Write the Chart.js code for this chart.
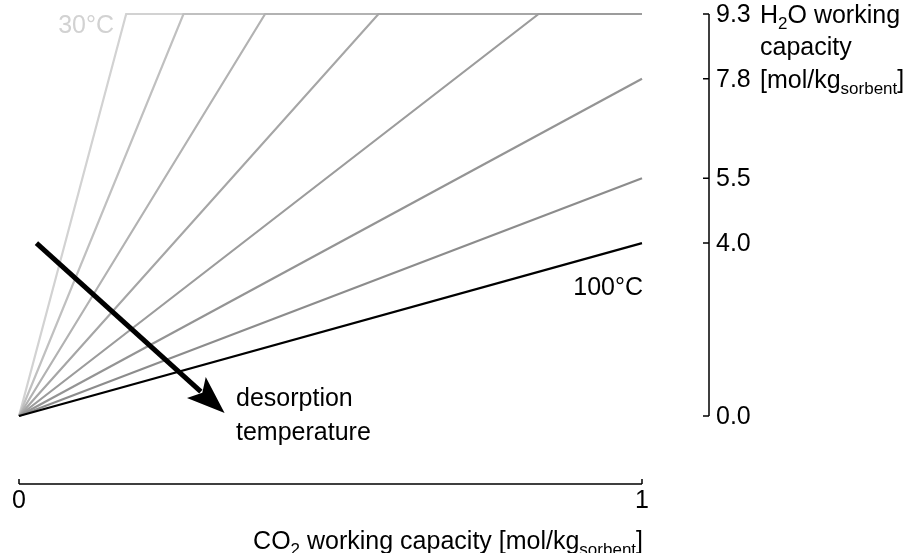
<!DOCTYPE html>
<html>
<head>
<meta charset="utf-8">
<script src="https://cdn.jsdelivr.net/npm/chart.js@4/dist/chart.umd.min.js"></script>
<style>
  body { margin: 0; background: #fff; }
  #wrap { width: 916px; height: 553px; position: relative; }
</style>
</head>
<body>
<div id="wrap"><canvas id="capacityChart"></canvas></div>
<script>
// Datos de las isotermas (una línea por temperatura de desorción)
const tempLabels = ['30°C', '40°C', '50°C', '60°C', '70°C', '80°C', '90°C', '100°C'];
const capCO2 = [0.172, 0.264, 0.395, 0.577, 0.834, 1, 1, 1];   // CO2 donde la línea llega a su valor final
const endH2O = [9.3, 9.3, 9.3, 9.3, 9.3, 7.8, 5.5, 4.0];      // H2O final de cada línea
const lineColors = ['#d2d2d2', '#c0c0c0', '#b2b2b2', '#a6a6a6', '#9c9c9c', '#949494', '#8c8c8c', '#000000'];

// Ticks de los ejes
const xTicks = [0, 1];
const yTicks = [0.0, 4.0, 5.5, 7.8, 9.3];

const FONT = '25px "Liberation Sans", Arial, sans-serif';
const SUB_FONT = '17px "Liberation Sans", Arial, sans-serif';

// Texto con subíndices
function drawRich(ctx, parts, x, y, align) {
    let total = 0;
    parts.forEach(p => {
        ctx.font = p.sub ? SUB_FONT : FONT;
        p.w = ctx.measureText(p.t).width;
        total += p.w;
    });
    let cx = align === 'right' ? x - total : x;
    ctx.textAlign = 'left';
    ctx.textBaseline = 'alphabetic';
    parts.forEach(p => {
        ctx.font = p.sub ? SUB_FONT : FONT;
        ctx.fillText(p.t, cx, p.sub ? y + 6 : y);
        cx += p.w;
    });
}

const axesPlugin = {
    id: 'customAxes',
    afterDraw(chart) {
        const ctx = chart.ctx;
        const xs = chart.scales.x;
        const ys = chart.scales.y;
        ctx.save();
        ctx.strokeStyle = '#000';
        ctx.fillStyle = '#000';
        ctx.lineWidth = 1.5;

        // Eje X separado
        const axisY = 484;
        ctx.beginPath();
        ctx.moveTo(xs.getPixelForValue(xTicks[0]), axisY);
        ctx.lineTo(xs.getPixelForValue(xTicks[xTicks.length - 1]), axisY);
        xTicks.forEach(t => {
            const px = xs.getPixelForValue(t);
            ctx.moveTo(px, axisY);
            ctx.lineTo(px, axisY - 5);
        });
        ctx.stroke();
        ctx.font = FONT;
        ctx.textAlign = 'center';
        ctx.textBaseline = 'middle';
        xTicks.forEach(t => {
            ctx.fillText(String(t), xs.getPixelForValue(t), 501);
        });
        drawRich(ctx, [
            { t: 'CO' }, { t: '2', sub: true }, { t: ' working capacity [mol/kg' },
            { t: 'sorbent', sub: true }, { t: ']' }
        ], 643, 549, 'right');

        // Eje Y a la derecha
        const axisX = 709;
        ctx.beginPath();
        ctx.moveTo(axisX, ys.getPixelForValue(yTicks[0]));
        ctx.lineTo(axisX, ys.getPixelForValue(yTicks[yTicks.length - 1]));
        yTicks.forEach(t => {
            const py = ys.getPixelForValue(t);
            ctx.moveTo(axisX, py);
            ctx.lineTo(axisX - 6, py);
        });
        ctx.stroke();
        ctx.font = FONT;
        ctx.textAlign = 'left';
        ctx.textBaseline = 'middle';
        yTicks.forEach(t => {
            ctx.fillText(t.toFixed(1), 716, ys.getPixelForValue(t) + 1);
        });
        drawRich(ctx, [{ t: 'H' }, { t: '2', sub: true }, { t: 'O working' }], 760, 23, 'left');
        drawRich(ctx, [{ t: 'capacity' }], 760, 55, 'left');
        drawRich(ctx, [{ t: '[mol/kg' }, { t: 'sorbent', sub: true }, { t: ']' }], 760, 88, 'left');

        // Etiquetas de temperatura
        ctx.font = FONT;
        ctx.textBaseline = 'middle';
        ctx.textAlign = 'right';
        ctx.fillStyle = lineColors[0];
        ctx.fillText(tempLabels[0], 114, 26);
        ctx.fillStyle = '#000';
        ctx.fillText(tempLabels[tempLabels.length - 1], 643, 288);

        // Flecha de temperatura de desorción
        const x0 = xs.getPixelForValue(0.028), y0 = ys.getPixelForValue(4.0);
        const x1 = xs.getPixelForValue(0.33), y1 = ys.getPixelForValue(0.07);
        const ang = Math.atan2(y1 - y0, x1 - x0);
        const headLen = 38, headW = 14;
        const bx = x1 - headLen * Math.cos(ang), by = y1 - headLen * Math.sin(ang);
        ctx.lineWidth = 5;
        ctx.beginPath();
        ctx.moveTo(x0, y0);
        ctx.lineTo(bx + 6 * Math.cos(ang), by + 6 * Math.sin(ang));
        ctx.stroke();
        ctx.beginPath();
        ctx.moveTo(x1, y1);
        ctx.lineTo(bx + headW * Math.sin(ang), by - headW * Math.cos(ang));
        ctx.lineTo(bx + 8 * Math.cos(ang), by + 8 * Math.sin(ang));
        ctx.lineTo(bx - headW * Math.sin(ang), by + headW * Math.cos(ang));
        ctx.closePath();
        ctx.fill();

        ctx.textAlign = 'left';
        ctx.fillText('desorption', 236, 399);
        ctx.fillText('temperature', 236, 433);
        ctx.restore();
    }
};

const datasets = tempLabels.map((label, i) => ({
    label: label,
    data: [{ x: 0, y: 0 }, { x: capCO2[i], y: endH2O[i] }, { x: 1, y: endH2O[i] }],
    borderColor: lineColors[i],
    borderWidth: 2.2,
    pointRadius: 0,
    fill: false,
    tension: 0,
    clip: false,
    order: tempLabels.length - i
}));

new Chart(document.getElementById('capacityChart').getContext('2d'), {
    type: 'line',
    data: { datasets: datasets },
    options: {
        responsive: true,
        maintainAspectRatio: false,
        animation: false,
        layout: {
            padding: { left: 19, right: 274, top: 14, bottom: 137 }
        },
        plugins: {
            legend: { display: false },
            tooltip: { enabled: false }
        },
        scales: {
            x: { type: 'linear', min: 0, max: 1, display: false },
            y: { type: 'linear', min: 0, max: 9.3, display: false }
        }
    },
    plugins: [axesPlugin]
});
</script>
</body>
</html>
